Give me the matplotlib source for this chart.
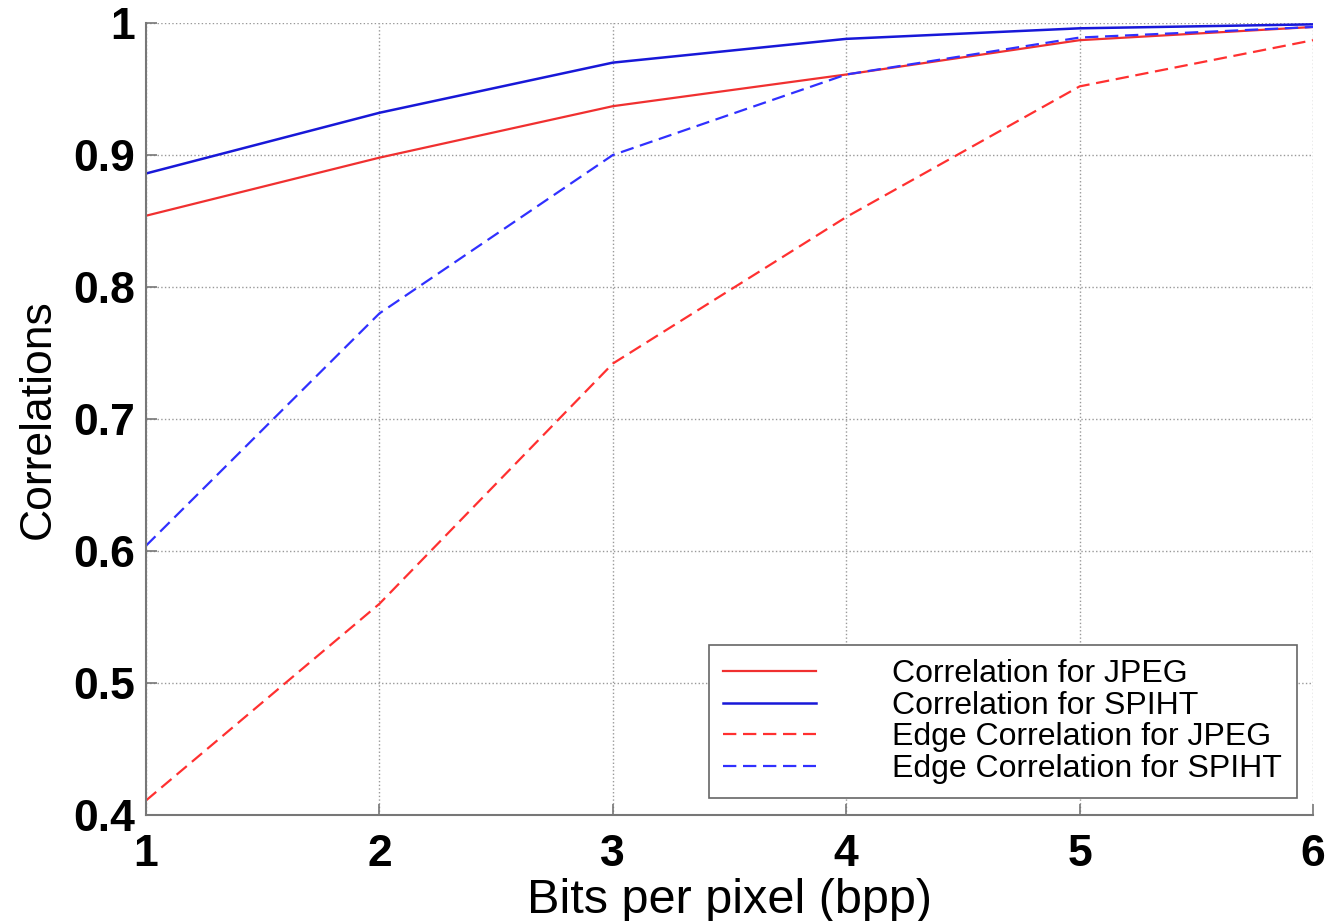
import matplotlib
matplotlib.use('Agg')
import matplotlib.pyplot as plt

plt.rcParams['font.family'] = ['Liberation Sans', 'DejaVu Sans']

bpp = [1, 2, 3, 4, 5, 6]
corr_jpeg = [0.854, 0.898, 0.937, 0.961, 0.987, 0.997]
corr_spiht = [0.886, 0.932, 0.970, 0.988, 0.996, 0.999]
edge_jpeg = [0.411, 0.560, 0.742, 0.853, 0.952, 0.987]
edge_spiht = [0.604, 0.780, 0.900, 0.961, 0.989, 0.997]

labels = ['Correlation for JPEG', 'Correlation for SPIHT',
          'Edge Correlation for JPEG', 'Edge Correlation for SPIHT']

fig = plt.figure(figsize=(13.31, 9.21), dpi=100, facecolor='w')
ax = fig.add_axes([0.1097, 0.1151, 0.8768, 0.8599])

ax.plot(bpp, corr_jpeg, color='#f03030', lw=1.6, label=labels[0])
ax.plot(bpp, corr_spiht, color='#1818d8', lw=1.8, label=labels[1])
ax.plot(bpp, edge_jpeg, color='#ff3030', lw=1.6, ls=(0, (6, 3)), label=labels[2])
ax.plot(bpp, edge_spiht, color='#3030ff', lw=1.6, ls=(0, (6, 3)), label=labels[3])

ax.set_xlim(1, 6)
ax.set_ylim(0.4, 1)
ax.set_xticks(bpp)
ax.set_yticks([0.4, 0.5, 0.6, 0.7, 0.8, 0.9, 1.0])
ax.set_yticklabels(['0.4', '0.5', '0.6', '0.7', '0.8', '0.9', '1'])
ax.grid(True, ls=':', color='#999999', lw=1)
ax.tick_params(direction='in', length=8, width=1.2, color='#777777',
               labelsize=32)
ax.tick_params(axis='x', pad=14)
ax.tick_params(axis='y', pad=8)
for lab in ax.get_xticklabels() + ax.get_yticklabels():
    lab.set_fontweight('bold')
for s in ['top', 'right']:
    ax.spines[s].set_visible(False)
for s in ['left', 'bottom']:
    ax.spines[s].set_color('#777777')
    ax.spines[s].set_linewidth(1.5)

ax.set_xlabel('Bits per pixel (bpp)', fontsize=35, labelpad=2)
ax.set_ylabel('Correlations', fontsize=32, labelpad=10)

leg = ax.legend(loc='lower right', bbox_to_anchor=(0.986, 0.021), borderaxespad=0,
                fontsize=23, handlelength=2.9, handletextpad=2.4, labelspacing=0.05,
                fancybox=False, framealpha=1, borderpad=0.45)
leg.get_frame().set_edgecolor('#666666')
leg.get_frame().set_linewidth(1.2)

fig.savefig('out.png', dpi=100)
